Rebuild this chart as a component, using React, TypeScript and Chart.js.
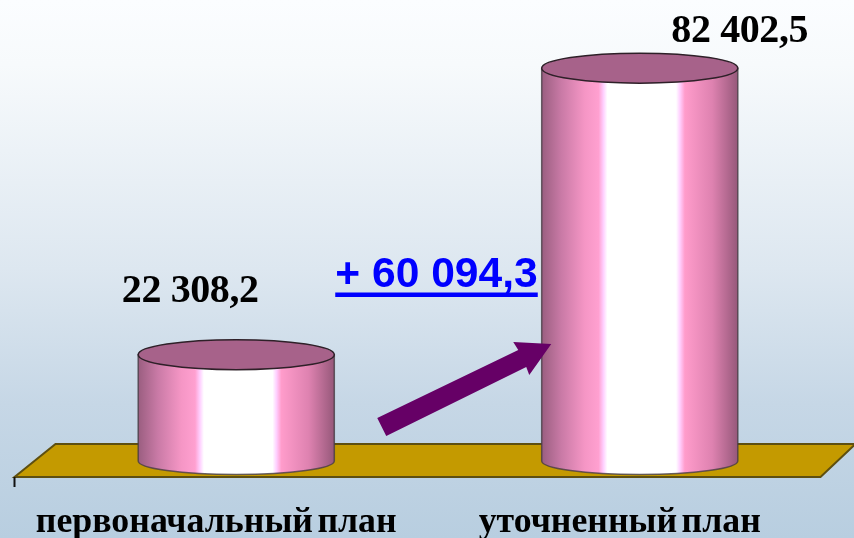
import React, { useEffect, useRef } from "react";
import { Chart, registerables } from "chart.js";

Chart.register(...registerables);

const categories = ["первоначальный план", "уточненный план"];
const planValues = [22308.2, 82402.5];
const changeLabel = "+ 60 094,3";

const SERIF = '"Liberation Serif", serif';
const SANS = '"Liberation Sans", sans-serif';
const DEPTH_X = 20;
const DEPTH_Y = 16;
const RY = 15;
const RY_BOTTOM = 13.5;
const LABEL_ANCHORS = [
  { dx: -46, y: 302 },
  { dx: 100, y: 42 },
];

const fmt = (v: number) => {
  const [a, b] = v.toFixed(1).split(".");
  return a.replace(/\B(?=(\d{3})+$)/g, " ") + "," + b;
};

const backdrop = {
  id: "backdrop",
  beforeDraw(chart: any) {
    const { ctx, width, height } = chart;
    const g = ctx.createLinearGradient(0, 0, 0, height);
    g.addColorStop(0, "#fbfdff");
    g.addColorStop(0.12, "#f7fafc");
    g.addColorStop(0.5, "#dde7f0");
    g.addColorStop(0.75, "#c6d7e6");
    g.addColorStop(1, "#b8cee0");
    ctx.save();
    ctx.fillStyle = g;
    ctx.fillRect(0, 0, width, height);
    ctx.restore();
    (ctx as any).wordSpacing = "-4.5px";
  },
  beforeDatasetsDraw(chart: any) {
    const { ctx, chartArea: a } = chart;
    const back = a.bottom - 33;
    ctx.save();
    ctx.beginPath();
    ctx.moveTo(a.left, a.bottom);
    ctx.lineTo(a.left + 41, back);
    ctx.lineTo(a.right + 34, back);
    ctx.lineTo(a.right - 1, a.bottom);
    ctx.closePath();
    ctx.fillStyle = "#c49a00";
    ctx.fill();
    ctx.strokeStyle = "#5e4f10";
    ctx.lineWidth = 2;
    ctx.stroke();
    ctx.strokeStyle = "#111";
    ctx.lineWidth = 2;
    ctx.beginPath();
    ctx.moveTo(a.left, a.bottom);
    ctx.lineTo(a.left, a.bottom + 10);
    ctx.stroke();
    ctx.restore();
  },
};

const cylinders = {
  id: "cylinders",
  afterDatasetsDraw(chart: any) {
    const { ctx } = chart;
    const meta = chart.getDatasetMeta(0);
    meta.data.forEach((bar: any, i: number) => {
      const cx = bar.x + DEPTH_X;
      const rx = bar.width / 2;
      const top = bar.y - DEPTH_Y;
      const base = bar.base - DEPTH_Y;
      const l = cx - rx;
      const w = rx * 2;
      const g = ctx.createLinearGradient(l, 0, l + w, 0);
      g.addColorStop(0, "#9a5e80");
      g.addColorStop(0.1, "#c97aa6");
      g.addColorStop(0.22, "#f596c5");
      g.addColorStop(0.29, "#ffa0d0");
      g.addColorStop(0.315, "#ffd0ff");
      g.addColorStop(0.335, "#ffffff");
      g.addColorStop(0.685, "#ffffff");
      g.addColorStop(0.705, "#ffd0ff");
      g.addColorStop(0.73, "#ff9ccb");
      g.addColorStop(0.87, "#de82b0");
      g.addColorStop(1, "#96587a");
      ctx.save();
      ctx.beginPath();
      ctx.moveTo(l, top);
      ctx.lineTo(l, base);
      ctx.ellipse(cx, base, rx, RY_BOTTOM, 0, Math.PI, 0, true);
      ctx.lineTo(l + w, top);
      ctx.closePath();
      ctx.fillStyle = g;
      ctx.fill();
      ctx.strokeStyle = "rgba(70,60,68,0.8)";
      ctx.lineWidth = 1.5;
      ctx.stroke();
      ctx.beginPath();
      ctx.ellipse(cx, top, rx, RY, 0, 0, Math.PI * 2);
      ctx.fillStyle = "#a7628a";
      ctx.fill();
      ctx.strokeStyle = "#2e2028";
      ctx.lineWidth = 1.5;
      ctx.stroke();
      ctx.restore();

      ctx.save();
      ctx.font = `bold 40px ${SERIF}`;
      (ctx as any).wordSpacing = "0px";
      (ctx as any).letterSpacing = "-0.4px";
      ctx.fillStyle = "#000";
      ctx.textAlign = "center";
      ctx.textBaseline = "alphabetic";
      ctx.fillText(fmt(planValues[i]), cx + LABEL_ANCHORS[i].dx, LABEL_ANCHORS[i].y);
      ctx.restore();
    });

    // arrow between the two bars
    const [a, b] = meta.data;
    const ox = a.x;
    const oy = a.base;
    const unitX = (b.x - a.x) / 403.5;
    const pts = [
      [161, -59],
      [170, -41],
      [310, -110],
      [313, -102],
      [335, -133],
      [297, -135],
      [302, -127],
    ];
    ctx.save();
    ctx.beginPath();
    pts.forEach(([x, y], k) => {
      if (k === 0) ctx.moveTo(ox + x * unitX, oy + y);
      else ctx.lineTo(ox + x * unitX, oy + y);
    });
    ctx.closePath();
    ctx.fillStyle = "#660066";
    ctx.fill();
    ctx.restore();

    // change annotation
    ctx.save();
    ctx.font = `bold 42.6px ${SANS}`;
    (ctx as any).wordSpacing = "0px";
    ctx.fillStyle = "#0000ff";
    ctx.textAlign = "left";
    ctx.textBaseline = "alphabetic";
    const tx = ox + 119;
    const ty = oy - 190;
    ctx.fillText(changeLabel, tx, ty);
    const tw = ctx.measureText(changeLabel).width;
    ctx.fillRect(tx, ty + 5.5, tw, 4.5);
    ctx.restore();
  },
};

export default function App() {
  const ref = useRef<HTMLCanvasElement | null>(null);
  useEffect(() => {
    if (!ref.current) return;
    const chart = new Chart(ref.current, {
      type: "bar",
      data: {
        labels: categories,
        datasets: [
          {
            data: planValues,
            backgroundColor: "transparent",
            borderWidth: 0,
            categoryPercentage: 1,
            barPercentage: 0.486,
          },
        ],
      },
      options: {
        responsive: false,
        animation: false,
        layout: { padding: { left: 14.5, right: 32.5, top: 48, bottom: 0 } },
        plugins: { legend: { display: false }, title: { display: false }, tooltip: { enabled: false } },
        scales: {
          y: { display: false, min: 0, max: 90000 },
          x: {
            grid: { display: false },
            border: { display: false },
            afterFit: (s: any) => {
              s.height = 61;
            },
            ticks: {
              color: "#000",
              padding: 16,
              maxRotation: 0,
              autoSkip: false,
              font: { family: "Liberation Serif", weight: "bold", size: 35.8 },
            },
          },
        },
      },
      plugins: [backdrop, cylinders],
    } as any);
    return () => chart.destroy();
  }, []);
  return (
    <canvas
      ref={ref}
      width={854}
      height={538}
      style={{ position: "fixed", left: 0, top: 0, width: 854, height: 538, display: "block" }}
    />
  );
}
